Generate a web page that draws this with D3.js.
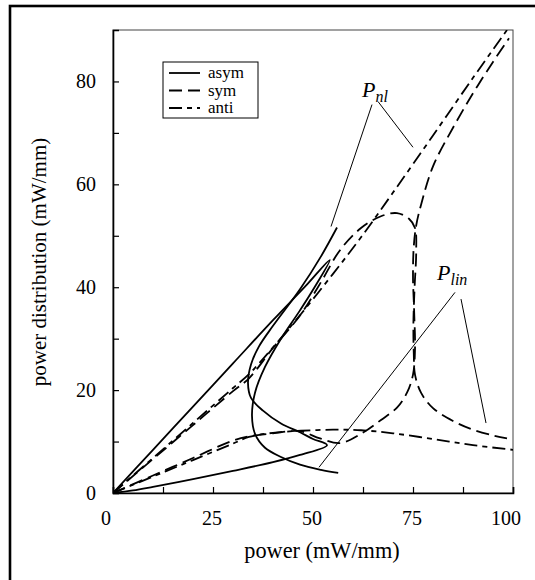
<!DOCTYPE html>
<html><head><meta charset="utf-8">
<script src="https://cdn.jsdelivr.net/npm/d3@7"></script>
<style>body{margin:0;background:#fff}svg{display:block}</style>
</head><body>
<script>
// ---- data (power in mW/mm, power distribution in mW/mm) ----
const asymNl  = [[0,0],[10,8.4],[20,16.8],[30,25.2],[40,33.6],[48,40.1],[54.2,45.3],[50,39.5],[46.75,35.5],[42,30],[38,24.5],[35.5,19.5],[34.75,15],[35.5,11.5],[38,8.8],[42,7],[46.75,5.5],[52,4.5],[56.3,3.9]];
const asymLin = [[0,0],[5,0.5],[10,1.2],[20,2.7],[30,4.3],[40,6.0],[46.75,7.4],[53.5,9.3],[50,10.5],[46.75,11.8],[42,13.5],[37.5,16],[34.5,18.5],[33.75,21.4],[34.5,25],[36.5,28.5],[40,32.5],[46.75,39.6],[52,46],[56,51.6]];
const symNl   = [[0,0],[10,6.6],[20,13.2],[30,19.8],[34,22.3],[40,28.2],[46.75,34.5],[52,41],[56.75,47.2],[62,51.5],[67,53.8],[71,54.4],[74,53.3],[75.5,51.5],[75.8,47],[75.4,40],[75.1,33],[75.2,27],[75.5,23],[77,19.5],[80,16.5],[85,14],[90,12.3],[95,11.2],[98.5,10.6]];
const symLin  = [[0,0],[10,3.4],[20,6.8],[30,10.2],[34,11.0],[40,11.6],[46.75,12.0],[51.75,10.6],[56.75,9.7],[62,11.5],[67,14.2],[71,16.6],[73.5,19.5],[75,23],[75.5,28],[75.3,35],[75,42],[75.2,48],[75.8,52],[77,56],[80,63.5],[85,71],[90,77.7],[95,83.8],[99,88.4]];
const antiNl  = [[0,0],[10,6.8],[20,13.6],[30,20.4],[34,23.1],[40,28.3],[47,34.8],[55,42.6],[62,49.7],[70,58.4],[80,69.5],[90,80.7],[98.5,90]];
const antiLin = [[0,0],[10,3.2],[20,6.4],[30,9.6],[34,10.9],[40,11.7],[47,12.1],[55,12.3],[62,12.2],[70,11.6],[80,10.5],[90,9.3],[100,8.4]];

const xTicks = [0,25,50,75,100];
const yTicks = [0,20,40,60,80];
const legendNames = ["asym","sym","anti"];
const dashes = {asym:null, sym:"13,6", anti:"13,5,5,5"};

const W=535,H=580;
const svg=d3.select("body").append("svg").attr("width",W).attr("height",H);
const font="'Liberation Serif','Times New Roman',serif";

// outer frame
svg.append("rect").attr("x",10).attr("y",6).attr("width",560).attr("height",620)
  .attr("fill","none").attr("stroke","#000").attr("stroke-width",2.6);

const x=d3.scaleLinear().domain([0,100]).range([113,513]);
const y=d3.scaleLinear().domain([0,90]).range([493,30]);

// plot frame (top/right)
svg.append("rect").attr("x",x(0)).attr("y",y(90)).attr("width",x(100)-x(0)).attr("height",y(0)-y(90))
  .attr("fill","none").attr("stroke","#444").attr("stroke-width",1);

// axes
const xAx=svg.append("g").attr("transform",`translate(0,${y(0)})`)
  .call(d3.axisBottom(x).tickValues(d3.range(0,101,12.5)).tickSize(-6).tickFormat(""));
const yAx=svg.append("g").attr("transform",`translate(${x(0)},0)`)
  .call(d3.axisLeft(y).tickValues(d3.range(0,81,10)).tickSize(-6).tickFormat(""));
[xAx,yAx].forEach(g=>{g.select(".domain").attr("stroke","#000").attr("stroke-width",1.6);
  g.selectAll(".tick line").attr("stroke","#000").attr("stroke-width",1.2);});

svg.append("g").selectAll("text").data(xTicks).join("text")
  .attr("x",(d,i)=>x(d)+(i===0||i===xTicks.length-1?-7:-1)).attr("y",525)
  .attr("text-anchor","middle").attr("font-family",font).attr("font-size",20).text(d=>d);
svg.append("g").selectAll("text").data(yTicks).join("text")
  .attr("x",96).attr("y",d=>y(d)+7).attr("text-anchor","end")
  .attr("font-family",font).attr("font-size",20).text(d=>d);

svg.append("text").attr("x",322).attr("y",558).attr("text-anchor","middle")
  .attr("font-family",font).attr("font-size",22.3).text("power (mW/mm)");
svg.append("text").attr("transform","translate(46,262) rotate(-90)").attr("text-anchor","middle")
  .attr("font-family",font).attr("font-size",21).text("power distribution (mW/mm)");

// curves
const line=d3.line().x(d=>x(d[0])).y(d=>y(d[1])).curve(d3.curveCatmullRom.alpha(0.5));
const series=[[asymNl,"asym"],[asymLin,"asym"],[symNl,"sym"],[symLin,"sym"],[antiNl,"anti"],[antiLin,"anti"]];
svg.append("clipPath").attr("id","c").append("rect")
  .attr("x",x(0)).attr("y",y(90)).attr("width",x(100)-x(0)).attr("height",y(0)-y(90));
svg.append("g").attr("clip-path","url(#c)").selectAll("path").data(series).join("path")
  .attr("d",d=>line(d[0])).attr("fill","none").attr("stroke","#000").attr("stroke-width",1.8)
  .attr("stroke-dasharray",d=>dashes[d[1]]);

// annotations (data coordinates)
const annLines=[[[64.75,75.5],[54.5,51.8]],[[66.25,76.1],[75,67.2]],[[85.5,39],[51.5,5]],[[87,37.7],[93.25,13.6]]];
svg.append("g").selectAll("line").data(annLines).join("line")
  .attr("x1",d=>x(d[0][0])).attr("y1",d=>y(d[0][1])).attr("x2",d=>x(d[1][0])).attr("y2",d=>y(d[1][1]))
  .attr("stroke","#000").attr("stroke-width",1);
function lab(px,py,main,sub){
  const t=svg.append("text").attr("x",x(px)).attr("y",y(py)).attr("font-family",font).attr("font-style","italic");
  t.append("tspan").attr("font-size",22).text(main);
  t.append("tspan").attr("font-size",16).attr("dy",5).text(sub);
}
lab(62.25,76.9,"P","nl");
lab(81,41.4,"P","lin");

// legend
const lg=svg.append("g");
lg.append("rect").attr("x",163).attr("y",62).attr("width",95).attr("height",56).attr("fill","#fff").attr("stroke","#000").attr("stroke-width",1);
legendNames.forEach((n,i)=>{
  const cy=73+i*17.5;
  lg.append("line").attr("x1",169).attr("x2",200).attr("y1",cy).attr("y2",cy).attr("stroke","#000").attr("stroke-width",1.8).attr("stroke-dasharray",dashes[n]);
  lg.append("text").attr("x",208).attr("y",cy+5).attr("font-family",font).attr("font-size",17).text(n);
});
</script>
</body></html>
